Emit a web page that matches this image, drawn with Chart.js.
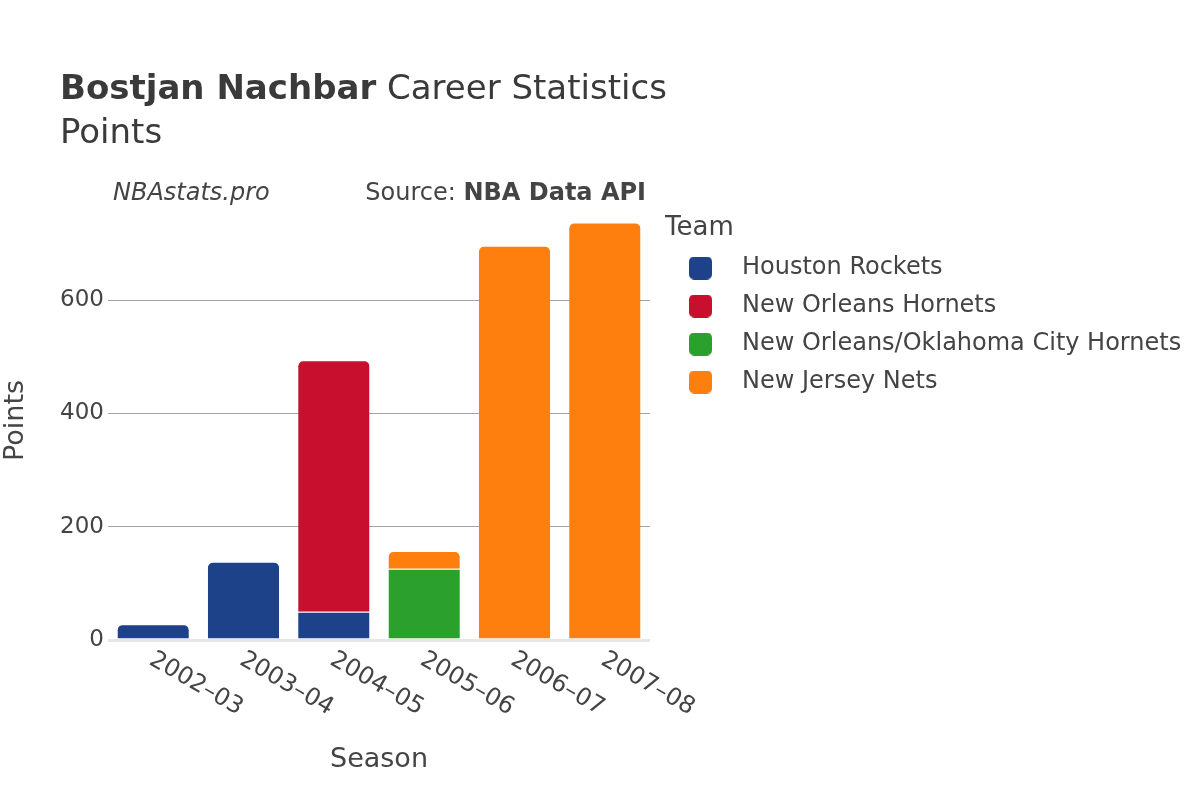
<!DOCTYPE html>
<html>
<head>
<meta charset="utf-8">
<script src="https://cdn.jsdelivr.net/npm/chart.js@4.4.1/dist/chart.umd.min.js"></script>
<style>
  html, body { margin: 0; padding: 0; background: #fff; }
  #wrap { position: relative; width: 1200px; height: 800px; font-family: "DejaVu Sans", sans-serif; color: #444; }
  #chart { position: absolute; left: 0; top: 0; }
  .txt { position: absolute; white-space: nowrap; }
  #title { left: 60px; top: 65px; font-size: 34px; line-height: 44px; color: #3a3a3a; }
  #siteName { left: 113px; top: 177px; font-size: 24px; line-height: 30px; font-style: italic; }
  #source { right: 554px; top: 177px; font-size: 24px; line-height: 30px; }
</style>
</head>
<body>
<div id="wrap">
  <canvas id="chart" width="1200" height="800"></canvas>
  <div id="title" class="txt"><b>Bostjan Nachbar</b> Career Statistics<br>Points</div>
  <div id="siteName" class="txt">NBAstats.pro</div>
  <div id="source" class="txt">Source: <b>NBA Data API</b></div>
</div>
<script>
// values
const seasons = ['2002–03', '2003–04', '2004–05', '2005–06', '2006–07', '2007–08'];
const teams = ['Houston Rockets', 'New Orleans Hornets', 'New Orleans/Oklahoma City Hornets', 'New Jersey Nets'];
const houstonPts = [28, 138, 50, null, null, null];
const hornetsPts = [null, null, 444, null, null, null];
const okcHornetsPts = [null, null, null, 126, null, null];
const netsPts = [null, null, null, 31, 696, 737];
const yTicks = [0, 200, 400, 600];
const teamColors = ['#1d428a', '#c8102e', '#2ca02c', '#ff7f0e'];

const FONT = 'DejaVu Sans';
Chart.defaults.font.family = FONT;
Chart.defaults.color = '#444';

// rounded legend swatch, drawn at the left of a wider image so text sits further right
function swatch(color) {
    const c = document.createElement('canvas');
    c.width = 31;
    c.height = 23;
    const g = c.getContext('2d');
    g.fillStyle = color;
    g.beginPath();
    g.roundRect(0, 0, 23, 23, 5);
    g.fill();
    return c;
}
const swatches = teamColors.map(swatch);

// season labels are rotated clockwise, which the category axis can't do itself
const seasonLabels = {
    id: 'seasonLabels',
    afterInit(chart) {
        const lg = chart.legend;
        const fit = lg.fit;
        lg.fit = function () { fit.call(this); this.width = 550; };
    },
    afterLayout(chart) {
        chart.legend.left += 15;
        chart.legend.right += 15;
    },
    afterDraw(chart) {
        const x = chart.scales.x;
        const ctx = chart.ctx;
        ctx.save();
        ctx.font = '24px "' + FONT + '"';
        ctx.fillStyle = '#444';
        ctx.textAlign = 'left';
        ctx.textBaseline = 'middle';
        seasons.forEach((s, i) => {
            ctx.save();
            ctx.translate(x.getPixelForTick(i) - 2, chart.chartArea.bottom + 18);
            ctx.rotate(Math.PI / 6);
            ctx.fillText(s, 0, 0);
            ctx.restore();
        });
        ctx.restore();
    }
};

const series = [houstonPts, hornetsPts, okcHornetsPts, netsPts];

new Chart(document.getElementById('chart'), {
    type: 'bar',
    data: {
        labels: seasons,
        datasets: teams.map((team, i) => ({
            label: team,
            data: series[i],
            backgroundColor: teamColors[i],
            borderColor: '#ffffff',
            borderWidth: { top: 1, left: 0, right: 0, bottom: 0 },
            borderRadius: 6,
            borderSkipped: 'start',
            barPercentage: 0.79,
            categoryPercentage: 1
        }))
    },
    options: {
        responsive: false,
        animation: false,
        layout: { padding: { top: 201, left: 0, right: 0, bottom: 0 } },
        scales: {
            x: {
                stacked: true,
                grid: { display: false },
                border: { display: false },
                ticks: { display: false },
                title: {
                    display: true, text: 'Season', color: '#444',
                    font: { size: 27 }, padding: { top: 0, bottom: 24 }
                },
                afterFit(scale) { scale.height = 160; }
            },
            y: {
                stacked: true,
                min: 0,
                max: 775,
                afterBuildTicks(scale) { scale.ticks = yTicks.map(v => ({ value: v })); },
                grid: {
                    drawTicks: false,
                    color: c => c.tick.value === 0 ? '#e6e6e6' : '#a3a3a3',
                    lineWidth: c => c.tick.value === 0 ? 3 : 1
                },
                border: { display: false },
                ticks: { font: { size: 23 }, color: '#444', padding: 4 },
                title: {
                    display: true, text: 'Points', color: '#444',
                    font: { size: 27 }, padding: { top: 0, bottom: 0 }
                },
                afterFit(scale) { scale.width = 108; }
            }
        },
        plugins: {
            tooltip: { enabled: false },
            legend: {
                position: 'right',
                align: 'start',
                title: {
                    display: true, text: 'Team', position: 'start', color: '#444',
                    font: { size: 26, lineHeight: 1 }, padding: { top: 14, bottom: 1 }
                },
                labels: {
                    usePointStyle: true,
                    pointStyleWidth: 51,
                    padding: 14,
                    color: '#444',
                    font: { size: 24 },
                    generateLabels: chart => Chart.defaults.plugins.legend.labels.generateLabels(chart)
                        .map((item, i) => ({ ...item, pointStyle: swatches[i] }))
                }
            }
        }
    },
    plugins: [seasonLabels]
});
</script>
</body>
</html>
